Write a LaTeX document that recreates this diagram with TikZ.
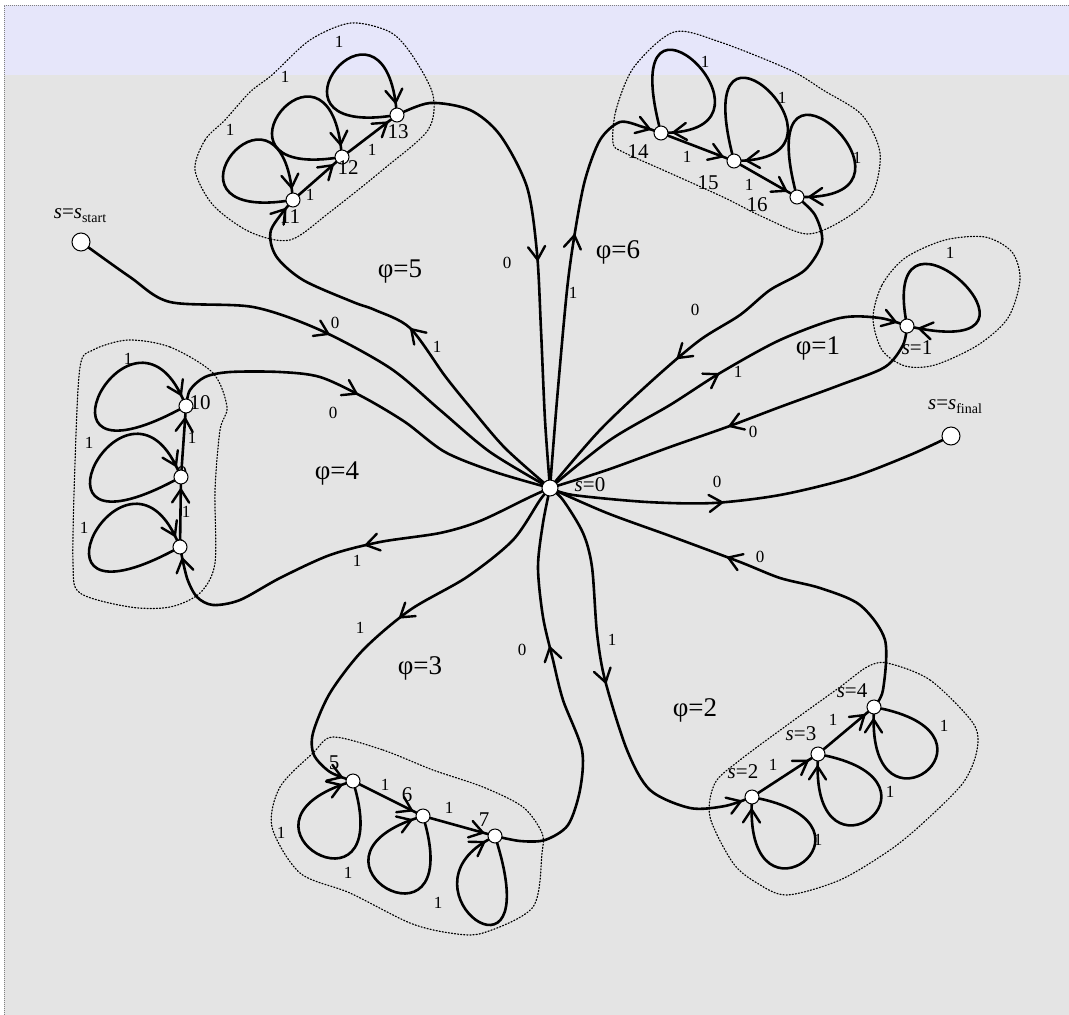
\documentclass[tikz,border=0pt]{standalone}
\usepackage{fontspec}
\setmainfont{Liberation Serif}
\usetikzlibrary{decorations.markings,calc}
\definecolor{lav}{RGB}{230,230,250}
\definecolor{bggrey}{RGB}{228,228,228}
\pgfdeclarelayer{bgl}
\pgfdeclarelayer{edl}
\pgfsetlayers{bgl,edl,main}
\tikzset{
 ln/.style={line width=2.6pt, line cap=round},
 arw/.style={postaction={decorate,decoration={markings,mark=at position #1 with {\draw[line width=2.4pt,solid,line cap=round,line join=miter,miter limit=20] (-13pt,8.5pt) -- (0pt,0pt) -- (-13pt,-8.5pt);}}}},
 st/.style={circle, draw, fill=white, line width=1pt, inner sep=0pt, minimum size=14pt},
 big/.style={st, minimum size=18pt},
 mid0/.style={st, minimum size=16pt},
 el/.style={font=\fontsize{17}{17}\selectfont, inner sep=0pt},
 nl/.style={font=\fontsize{21}{21}\selectfont, inner sep=0pt},
 pl/.style={font=\fontsize{27}{27}\selectfont, inner sep=0pt},
 grp/.style={line width=1.2pt, dash pattern=on 1.1pt off 2pt, line cap=round},
}
\newcommand\selfloop[3]{\draw[ln,arw=-5pt] (#1) .. controls ($(#1)+(#2)$) and ($(#1)+(#3)$) .. (#1);}
\begin{document}
\begin{tikzpicture}[x=1pt,y=-1pt]
\useasboundingbox (0,0) rectangle (1069,1015);
\begin{pgfonlayer}{bgl}
\fill[white] (0,0) rectangle (1069,1015);
\fill[bggrey] (4,75) rectangle (1069,1015);
\fill[lav] (4,5) rectangle (1069,75);
\draw[gray, line width=0.6pt, dash pattern=on 1pt off 1pt] (1069,5) -- (4,5) -- (4,1015);
% group outlines
\draw[grp] plot[smooth cycle] coordinates {(195,170) (205,140) (225,120) (250,92) (272,75) (310,40) (351,23) (390,32) (412,55) (433,95) (428,130) (385,168) (330,212) (290,240) (250,232) (213,205)};
\draw[grp] plot[smooth cycle] coordinates {(613,143) (616,110) (634,67) (674,32) (720,42) (790,70) (823,90) (862,115) (880,153) (872,195) (843,220) (807,234) (763,217) (723,197) (663,170) (623,152)};
\draw[grp] plot[smooth cycle] coordinates {(873,318) (882,285) (905,258) (945,240) (985,237) (1012,252) (1020,280) (1008,318) (978,345) (935,365) (905,366) (882,350)};
\draw[grp] plot[smooth cycle] coordinates {(128,340) (170,347) (213,373) (227,407) (220,430) (215,490) (215,563) (200,593) (170,607) (130,607) (80,593) (73,563) (75,463) (80,367) (93,350)};
\draw[grp] plot[smooth cycle] coordinates {(333,737) (383,750) (433,770) (483,787) (523,807) (542,833) (542,853) (533,907) (483,933) (450,933) (410,923) (350,893) (300,873) (272,827) (280,787) (313,753)};
\draw[grp] plot[smooth cycle] coordinates {(887,663) (930,680) (973,723) (977,750) (963,783) (923,823) (890,850) (840,880) (787,895) (757,883) (733,863) (710,817) (715,783) (740,760) (790,723) (840,687) (867,667)};
\end{pgfonlayer}

% hidden labels under nodes
\node[nl] (l9) at (182,474) {9};
\node[nl] (l8) at (180,547) {8};

% nodes
\node[mid0] (s0) at (550,488) {};
\node[big] (start) at (81,242) {};
\node[big] (final) at (951,436) {};
\node[st] (n1) at (907,326) {};
\node[st] (n2) at (752,797) {};
\node[st] (n3) at (818,754) {};
\node[st] (n4) at (874,707) {};
\node[st] (n5) at (353,781) {};
\node[st] (n6) at (423,816) {};
\node[st] (n7) at (495,836) {};
\node[st] (n8) at (180,547) {};
\node[st] (n9) at (181,477) {};
\node[st] (n10) at (186,406) {};
\node[st] (n11) at (293,200) {};
\node[st] (n12) at (342,157) {};
\node[st] (n13) at (397,115) {};
\node[st] (n14) at (661,133) {};
\node[st] (n15) at (734,161) {};
\node[st] (n16) at (797,197) {};

\begin{pgfonlayer}{edl}
% star edges
\draw[ln,arw=0.5] plot[smooth] coordinates {(start) (130,277) (170,302) (253,307) (320,330) (390,368) (440,410) (490,452) (s0)};
\draw[ln,arw=0.49,arw=-12pt] plot[smooth] coordinates {(s0) (505,448) (470,407) (445,376) (410,328) (375,310) (353,302) (303,280) (276,256) (271,230) (n11)};
\draw[ln,arw=0.52] plot[smooth] coordinates {(n13) (430,103) (470,110) (500,135) (527,187) (537,253) (541,330) (545,420) (s0)};
\draw[ln,arw=0.6,arw=-12pt] plot[smooth] coordinates {(s0) (557,400) (567,290) (575,232) (585,180) (600,140) (620,122) (643,127) (n14)};
\draw[ln,arw=0.57] plot[smooth] coordinates {(n16) (815,215) (822,242) (805,270) (770,290) (740,315) (700,340) (655,378) (600,430) (s0)};
\draw[ln,arw=0.5,arw=-12pt] plot[smooth] coordinates {(s0) (610,440) (670,405) (720,373) (780,340) (840,318) (880,318) (n1)};
\draw[ln,arw=0.53] plot[smooth] coordinates {(n1) (903,345) (885,367) (840,385) (780,407) (727,427) (670,447) (607,470) (s0)};
\draw[ln,arw=0.42] plot[smooth] coordinates {(s0) (573,495) (647,502) (713,503) (780,495) (850,478) (910,455) (final)};
\draw[ln,arw=0.57] plot[smooth] coordinates {(n4) (883,690) (885,640) (860,605) (820,588) (780,578) (740,562) (673,537) (607,513) (s0)};
\draw[ln,arw=0.48,arw=-12pt] plot[smooth] coordinates {(s0) (563,500) (583,533) (592,567) (597,633) (605,680) (627,750) (650,790) (690,808) (725,806) (n2)};
\draw[ln,arw=0.62] plot[smooth] coordinates {(n7) (520,841) (545,840) (568,825) (580,790) (582,750) (563,700) (553,660) (543,617) (538,567) (543,523) (s0)};
\draw[ln,arw=0.48,arw=-12pt] plot[smooth] coordinates {(s0) (540,500) (513,540) (467,577) (410,610) (363,650) (330,693) (313,733) (314,755) (330,772) (n5)};
\draw[ln,arw=0.45,arw=-12pt] plot[smooth] coordinates {(s0) (530,497) (480,521) (440,533) (380,542) (330,555) (280,578) (240,600) (213,605) (197,597) (187,578) (n8)};
\draw[ln,arw=0.47] plot[smooth] coordinates {(n10) (190,390) (205,377) (230,372) (280,372) (320,377) (363,397) (405,422) (445,452) (495,472) (s0)};
% chains
\draw[ln,arw=-5pt] (n11) -- (n12);
\draw[ln,arw=-5pt] (n12) -- (n13);
\draw[ln,arw=-5pt] (n14) -- (n15);
\draw[ln,arw=-5pt] (n15) -- (n16);
\draw[ln,arw=-5pt] (n8) -- (n9);
\draw[ln,arw=-5pt] (n9) -- (n10);
\draw[ln,arw=-5pt] (n5) -- (n6);
\draw[ln,arw=-5pt] (n6) -- (n7);
\draw[ln,arw=-5pt] (n2) -- (n3);
\draw[ln,arw=-5pt] (n3) -- (n4);
% loops
\selfloop{n11}{-145,20}{-15,-140}
\selfloop{n12}{-145,20}{-15,-140}
\selfloop{n13}{-145,20}{-15,-140}
\selfloop{n14}{-45,-180}{135,-5}
\selfloop{n15}{-45,-180}{135,-5}
\selfloop{n16}{-45,-180}{145,0}
\selfloop{n1}{-25,-150}{170,35}
\selfloop{n10}{-170,90}{-55,-125}
\selfloop{n9}{-170,90}{-55,-125}
\selfloop{n8}{-170,90}{-55,-125}
\selfloop{n5}{40,145}{-135,45}
\selfloop{n6}{40,145}{-135,45}
\selfloop{n7}{50,165}{-100,55}
\selfloop{n2}{140,30}{-5,140}
\selfloop{n3}{140,30}{-5,140}
\selfloop{n4}{140,30}{-5,140}
\end{pgfonlayer}

% edge labels
\node[el] (e1) at (335,323) {0};
\node[el] (e2) at (437,347) {1};
\node[el] (e3) at (333,413) {0};
\node[el] (e4) at (507,263) {0};
\node[el] (e5) at (573,293) {1};
\node[el] (e6) at (695,310) {0};
\node[el] (e7) at (738,372) {1};
\node[el] (e8) at (753,432) {0};
\node[el] (e9) at (717,482) {0};
\node[el] (e10) at (760,557) {0};
\node[el] (e11) at (612,640) {1};
\node[el] (e12) at (522,650) {0};
\node[el] (e13) at (360,628) {1};
\node[el] (e14) at (357,561) {1};
% chain labels
\node[el] (c1) at (310,195) {1};
\node[el] (c2) at (372,150) {1};
\node[el] (c3) at (687,157) {1};
\node[el] (c4) at (749,185) {1};
\node[el] (c5) at (186,512) {1};
\node[el] (c6) at (192,438) {1};
\node[el] (c7) at (385,785) {1};
\node[el] (c8) at (449,808) {1};
\node[el] (c9) at (773,765) {1};
\node[el] (c10) at (833,720) {1};
% loop labels
\node[el] (o1) at (230,130) {1};
\node[el] (o2) at (285,77) {1};
\node[el] (o3) at (339,42) {1};
\node[el] (o4) at (705,62) {1};
\node[el] (o5) at (782,98) {1};
\node[el] (o6) at (857,158) {1};
\node[el] (o7) at (950,253) {1};
\node[el] (o8) at (128,359) {1};
\node[el] (o9) at (89,443) {1};
\node[el] (o10) at (84,528) {1};
\node[el] (o11) at (281,833) {1};
\node[el] (o12) at (348,873) {1};
\node[el] (o13) at (438,903) {1};
\node[el] (o14) at (818,840) {1};
\node[el] (o15) at (890,792) {1};
\node[el] (o16) at (944,726) {1};
% node labels
\node[nl] (ls0) at (590,485) {\textit{s}=0};
\node[nl] (ls1) at (917,348) {\textit{s}=1};
\node[nl] (ls2) at (743,772) {\textit{s}=2};
\node[nl] (ls3) at (801,734) {\textit{s}=3};
\node[nl] (ls4) at (852,691) {\textit{s}=4};
\node[nl] (l5) at (334,763) {5};
\node[nl] (l6) at (407,795) {6};
\node[nl] (l7) at (484,820) {7};
\node[nl] (l10) at (200,403) {10};
\node[nl] (l11) at (290,217) {11};
\node[nl] (l12) at (348,168) {12};
\node[nl] (l13) at (398,132) {13};
\node[nl] (l14) at (638,152) {14};
\node[nl] (l15) at (708,183) {15};
\node[nl] (l16) at (757,205) {16};
\node[nl] (lstart) at (80,216) {\textit{s}=\textit{s}\raisebox{-0.2em}{\fontsize{14}{14}\selectfont start}};
\node[nl] (lfinal) at (955,407) {\textit{s}=\textit{s}\raisebox{-0.2em}{\fontsize{14}{14}\selectfont final}};
% phi labels
\node[pl] (p5) at (400,272) {φ=5};
\node[pl] (p6) at (618,252) {φ=6};
\node[pl] (p1) at (818,348) {φ=1};
\node[pl] (p4) at (337,473) {φ=4};
\node[pl] (p3) at (420,668) {φ=3};
\node[pl] (p2) at (695,710) {φ=2};
\end{tikzpicture}
\end{document}
